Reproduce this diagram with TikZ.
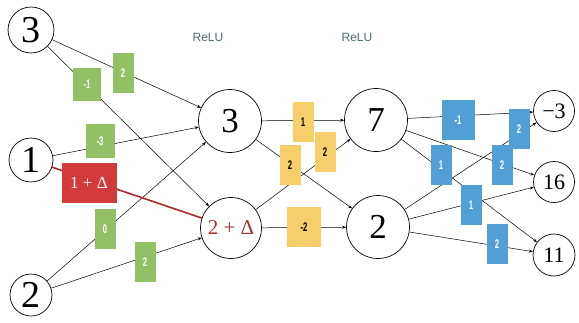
\documentclass[tikz,border=0pt]{standalone}
\usepackage{fontspec}
\setmainfont{Liberation Serif}
\newfontfamily\sansf{Liberation Sans}
\usetikzlibrary{arrows.meta}
\definecolor{gbox}{HTML}{93BF65}
\definecolor{ybox}{HTML}{F6CF6A}
\definecolor{bbox}{HTML}{529FD6}
\definecolor{rbox}{HTML}{D23B3A}
\definecolor{rline}{HTML}{B3272B}
\definecolor{rtext}{HTML}{A83232}
\definecolor{relu}{HTML}{4D6B73}
\newcommand\cnd[1]{\scalebox{0.62}[1]{#1}}
\tikzset{
  nn/.style={circle,draw,line width=0.7pt,inner sep=0pt},
  big/.style={nn,minimum size=46pt,font=\fontsize{38}{38}\selectfont},
  mid/.style={nn,minimum size=63pt,font=\fontsize{35}{35}\selectfont},
  sml/.style={nn,minimum size=41pt,font=\fontsize{22}{22}\selectfont},
  edge/.style={-{Stealth[length=4pt,width=3pt]},line width=0.5pt},
  wbox/.style={rectangle,inner sep=0pt,minimum width=21pt,minimum height=40pt,font=\sansf\bfseries\fontsize{12.5}{12.5}\selectfont},
  gb/.style={wbox,fill=gbox,text=white},
  yb/.style={wbox,fill=ybox,text=black},
  bb/.style={wbox,fill=bbox,text=white},
}
\begin{document}
\begin{tikzpicture}[x=1pt,y=-1pt]
\useasboundingbox[fill=white] (0,0) rectangle (579,322);
% nodes
\node[big] (i3) at (31,30) {3};
\node[big,minimum size=44pt] (i1) at (31,160) {1};
\node[big,minimum size=42pt] (i2) at (31,295) {2};
\node[mid] (h3) at (230,121) {3};
\node[mid,minimum size=61pt,font=\fontsize{21}{21}\selectfont,text=rtext] (h2) at (231,228) {2 + Δ};
\node[mid] (o7) at (376,120) {7};
\node[mid] (o2) at (378,227) {2};
\node[sml] (y1) at (554,111) {−3};
\node[sml] (y2) at (554,182) {16};
\node[sml,minimum size=42pt] (y3) at (554,255) {11};
\node[font=\sansf\fontsize{12}{12}\selectfont,text=relu] (r1) at (208,37) {ReLU};
\node[font=\sansf\fontsize{12}{12}\selectfont,text=relu] (r2) at (357,37) {ReLU};
% connectors
\draw[edge] (i3) -- (h3);
\draw[edge] (i3) -- (h2);
\draw[edge] (i1) -- (h3);
\draw[edge] (i2) -- (h3);
\draw[edge] (i2) -- (h2);
\draw[rline,line width=1.6pt] (i1) -- (h2);
\draw[edge] (h3) -- (o7);
\draw[edge] (h3) -- (o2);
\draw[edge] (h2) -- (o7);
\draw[edge] (h2) -- (o2);
\draw[edge] (o7) -- (y1);
\draw[edge] (o7) -- (y2);
\draw[edge] (o7) -- (y3);
\draw[edge] (o2) -- (y1);
\draw[edge] (o2) -- (y2);
\draw[edge] (o2) -- (y3);
% weight labels
\node[gb] (w1) at (123,73) {\cnd{2}};
\node[gb,minimum width=28pt,minimum height=33pt] (w2) at (87,84) {\cnd{-1}};
\node[gb,minimum width=29pt,minimum height=34pt] (w3) at (100,141) {\cnd{-3}};
\node[wbox,fill=rbox,text=white,minimum width=55pt,font=\fontsize{17}{17}\selectfont] (w4) at (89,183) {1 + Δ};
\node[gb] (w5) at (105,229) {\cnd{0}};
\node[gb] (w6) at (145,262) {\cnd{2}};
\node[yb] (v1) at (303,122) {\cnd{1}};
\node[yb] (v2) at (290,165) {\cnd{2}};
\node[yb] (v3) at (325,152) {\cnd{2}};
\node[yb,minimum width=34pt] (v4) at (304,227) {\cnd{-2}};
\node[bb,minimum width=33pt] (u1) at (458,120) {\cnd{-1}};
\node[bb] (u2) at (502,165) {\cnd{2}};
\node[bb] (u3) at (441,165) {\cnd{1}};
\node[bb] (u4) at (519,129) {\cnd{2}};
\node[bb] (u5) at (471,205) {\cnd{1}};
\node[bb] (u6) at (497,244) {\cnd{2}};
\end{tikzpicture}
\end{document}
